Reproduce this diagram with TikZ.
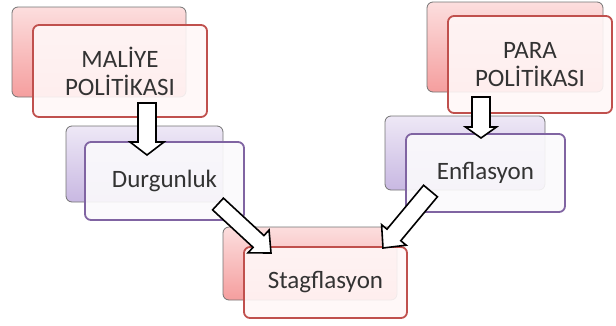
\documentclass[tikz,border=0pt]{standalone}
\usepackage{fontspec}
\setmainfont{Carlito}
\usetikzlibrary{calc}
\definecolor{redb}{HTML}{C0504D}
\definecolor{purb}{HTML}{8064A2}
\definecolor{txt}{HTML}{333333}
\definecolor{redtop}{RGB}{252,222,222}
\definecolor{redbot}{RGB}{245,158,158}
\definecolor{purtop}{RGB}{238,232,246}
\definecolor{purbot}{RGB}{200,184,226}
\tikzset{
  backred/.style={draw=black!55, line width=0.8pt, rounded corners=6pt, top color=redtop, bottom color=redbot, inner sep=0pt},
  backpur/.style={draw=black!55, line width=0.8pt, rounded corners=6pt, top color=purtop, bottom color=purbot, inner sep=0pt},
  frontred/.style={draw=redb, line width=1.8pt, rounded corners=6pt, fill=red!3, fill opacity=0.9, text opacity=1, inner sep=0pt, align=center, text=txt, font=\fontsize{25}{28}\selectfont},
  frontpur/.style={draw=purb, line width=1.8pt, rounded corners=6pt, fill=purb!3, fill opacity=0.9, text opacity=1, inner sep=0pt, align=center, text=txt, font=\fontsize{25}{28}\selectfont},
  blockarr/.style={draw=black, line width=1.6pt, fill=white, line join=miter}
}
\newcommand{\blockarrow}[5]{% tail, tip, shaft half width, head half width, head length
  \coordinate (hb) at ($(#2)!#5!(#1)$);
  \draw[blockarr] ($(#1)!#3!90:(#2)$) -- ($(hb)!#3!-90:(#1)$) -- ($(hb)!#4!-90:(#1)$) -- (#2)
    -- ($(hb)!#4!90:(#1)$) -- ($(hb)!#3!90:(#1)$) -- ($(#1)!#3!-90:(#2)$) -- cycle;
}
\begin{document}
\begin{tikzpicture}[x=1pt,y=-1pt]
\useasboundingbox (0,0) rectangle (616,325);
% back boxes
\node[backred, minimum width=174pt, minimum height=90pt] (mb) at (99,52) {};
\node[backred, minimum width=176pt, minimum height=90pt] (pb) at (515,47) {};
\node[backpur, minimum width=157pt, minimum height=76pt] (db) at (144.5,164) {};
\node[backpur, minimum width=160pt, minimum height=74pt] (eb) at (465,153) {};
\node[backred, minimum width=174pt, minimum height=73pt] (sb) at (310,263.5) {};
% front boxes
\node[frontred, minimum width=174pt, minimum height=92pt] (maliye) at (120,71) {MALİYE\\POLİTİKASI};
\node[frontred, minimum width=164pt, minimum height=97pt] (para) at (530,64.5) {PARA\\POLİTİKASI};
\node[frontpur, minimum width=159pt, minimum height=78pt] (durg) at (164.5,181) {Durgunluk};
\node[frontpur, minimum width=159pt, minimum height=78pt] (enf) at (485.5,173) {Enflasyon};
\node[frontred, minimum width=163pt, minimum height=71pt] (stag) at (325.5,282.5) {Stagflasyon};
% arrows
\coordinate (a1s) at (147,103);
\coordinate (a1e) at (147,155);
\coordinate (a2s) at (481,97);
\coordinate (a2e) at (481,138);
\coordinate (a3s) at (218,204);
\coordinate (a3e) at (271,253);
\coordinate (a4s) at (430.5,191);
\coordinate (a4e) at (383,248);
\blockarrow{a1s}{a1e}{9pt}{17pt}{13pt}
\blockarrow{a2s}{a2e}{9pt}{15.5pt}{11pt}
\blockarrow{a3s}{a3e}{8pt}{15.5pt}{17pt}
\blockarrow{a4s}{a4e}{9pt}{16pt}{17pt}
\end{tikzpicture}
\end{document}
